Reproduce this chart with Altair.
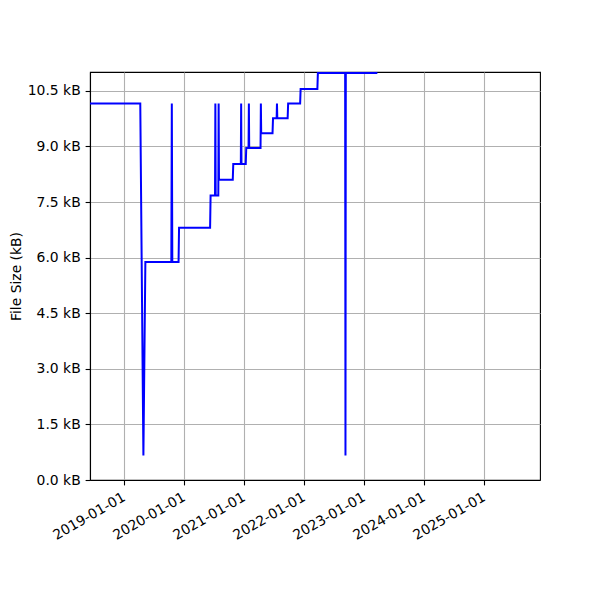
import altair as alt
import pandas as pd

# commit dates and file sizes (kB)
dates = [
    "2018-06-06", "2019-04-08", "2019-04-27", "2019-05-09",
    "2019-10-14", "2019-10-17", "2019-10-20",
    "2019-11-27", "2019-11-30",
    "2020-06-06", "2020-06-09",
    "2020-07-06", "2020-07-08", "2020-07-10",
    "2020-07-26", "2020-07-28", "2020-07-30",
    "2020-10-22", "2020-10-25",
    "2020-12-10", "2020-12-12", "2020-12-14",
    "2021-01-09", "2021-01-12",
    "2021-01-26", "2021-01-28", "2021-01-30",
    "2021-04-09", "2021-04-11", "2021-04-13",
    "2021-06-21", "2021-06-24",
    "2021-07-16", "2021-07-18", "2021-07-20",
    "2021-09-21", "2021-09-24",
    "2021-12-06", "2021-12-09",
    "2022-03-21", "2022-03-24",
    "2022-09-06", "2022-09-08", "2022-09-10",
    "2023-03-21",
]
sizes = [
    10.16, 10.16, 0.66, 5.88,
    5.88, 10.16, 5.88,
    5.88, 6.81,
    6.81, 7.68,
    7.68, 10.16, 7.68,
    7.68, 10.16, 8.10,
    8.10, 8.53,
    8.53, 10.16, 8.53,
    8.53, 8.96,
    8.96, 10.16, 8.96,
    8.96, 10.16, 9.36,
    9.36, 9.76,
    9.76, 10.16, 9.76,
    9.76, 10.16,
    10.16, 10.55,
    10.55, 10.98,
    10.98, 0.66, 10.98,
    10.98,
]
y_ticks = [0.0, 1.5, 3.0, 4.5, 6.0, 7.5, 9.0, 10.5]
x_tick_years = [2019, 2020, 2021, 2022, 2023, 2024, 2025]

df = pd.DataFrame({"date": dates, "size": sizes, "order": range(len(dates))})

FS = 13.9
x_axis = alt.Axis(
    values=[alt.DateTime(year=y, month=1, date=1, utc=True) for y in x_tick_years],
    labelExpr="utcFormat(datum.value, '%Y-%m-%d')",
    labelAngle=-30, labelAlign="right", labelBaseline="top", labelOffset=-4,
    labelFontSize=FS, labelFont="DejaVu Sans", labelColor="black", labelPadding=4.9,
    tickSize=4.9, tickColor="black", tickWidth=1.1,
    domainColor="black", domainWidth=1.1,
    grid=True, gridColor="#b0b0b0", gridWidth=1.1,
    title=None, labelOverlap=False, labelFlush=False,
)
y_axis = alt.Axis(
    values=y_ticks,
    labelExpr="format(datum.value, '.1f') + ' kB'",
    labelFontSize=FS, labelFont="DejaVu Sans", labelColor="black", labelPadding=4.9,
    tickSize=4.9, tickColor="black", tickWidth=1.1,
    domainColor="black", domainWidth=1.1,
    grid=True, gridColor="#b0b0b0", gridWidth=1.1,
    title="File Size (kB)", titleFontSize=FS, titleFont="DejaVu Sans",
    titleFontWeight="normal", titleColor="black",
    titleX=-74, titleY=204, titleAngle=-90, titleAlign="center", titleBaseline="middle",
    labelOverlap=False,
)

chart = alt.Chart(df).mark_line(color="#0000ff", strokeWidth=2, clip=True).encode(
    x=alt.X("date:T", axis=x_axis,
            scale=alt.Scale(type="utc",
                            domain=[alt.DateTime(year=2018, month=6, date=6, utc=True),
                                    alt.DateTime(year=2025, month=12, date=5, utc=True)])),
    y=alt.Y("size:Q", axis=y_axis, scale=alt.Scale(domain=[0, 11.01], nice=False, zero=True)),
    order="order:Q",
).properties(
    width=450, height=408,
    autosize=alt.AutoSizeParams(type="none"),
    padding={"left": 82, "top": 64, "right": 52, "bottom": 112},
).configure_view(stroke="black", strokeWidth=1.1)

chart.save("out.html", embed_options={"renderer": "svg", "actions": False})
